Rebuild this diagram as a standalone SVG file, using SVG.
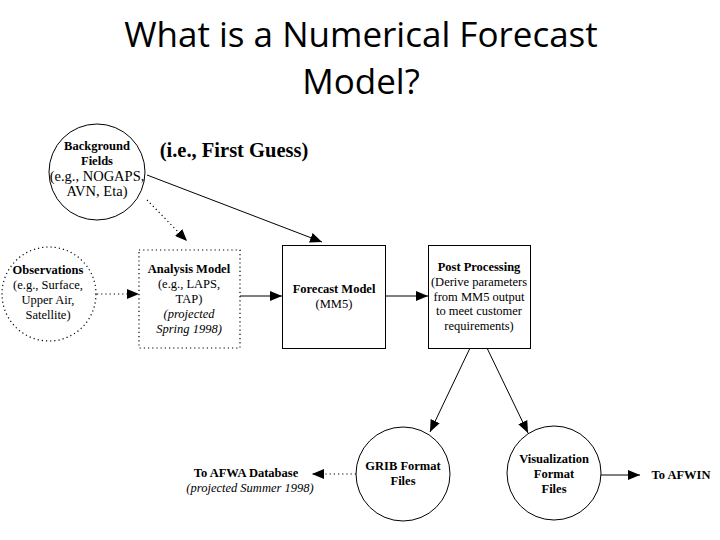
<svg xmlns="http://www.w3.org/2000/svg" width="720" height="540" viewBox="0 0 720 540">
<style>
.t{font-family:"Liberation Serif","Times New Roman",serif;font-size:12.5px;fill:#000;text-anchor:middle}
.b{font-weight:bold}
.i{font-style:italic}
.ln{stroke:#000;stroke-width:1;fill:none}
.dot{stroke:#000;stroke-width:1.2;fill:none;stroke-dasharray:1.2 3}
.title{font-family:"Open Sans","Noto Sans",sans-serif;font-size:35px;fill:#000;text-anchor:middle}
</style>
<defs>
<marker id="ah" viewBox="0 0 12 10" refX="12" refY="5" markerWidth="12" markerHeight="10" markerUnits="userSpaceOnUse" orient="auto">
<path d="M0,0 L12,5 L0,10 z" fill="#000"/>
</marker>
</defs>
<rect width="720" height="540" fill="#fff"/>
<text class="title" x="361" y="47">What is a Numerical Forecast</text>
<text class="title" x="361" y="94">Model?</text>
<text class="t b" x="234" y="157" style="font-size:20.5px">(i.e., First Guess)</text>

<g id="connectors">
<line class="ln" x1="147" y1="175" x2="322" y2="242" marker-end="url(#ah)"/>
<line class="dot" x1="147" y1="200" x2="187" y2="241" marker-end="url(#ah)"/>
<line class="dot" x1="97" y1="294" x2="139" y2="294" marker-end="url(#ah)"/>
<line class="ln" x1="240" y1="296" x2="282" y2="296" marker-end="url(#ah)"/>
<line class="ln" x1="385" y1="296" x2="428" y2="296" marker-end="url(#ah)"/>
<line class="ln" x1="470" y1="348" x2="430" y2="432" marker-end="url(#ah)"/>
<line class="ln" x1="487" y1="348" x2="528" y2="433" marker-end="url(#ah)"/>
<line class="ln" x1="601" y1="475" x2="640" y2="475" marker-end="url(#ah)"/>
<line class="dot" x1="356" y1="474" x2="312" y2="474" marker-end="url(#ah)"/>
</g>

<g id="background">
<circle class="ln" cx="97" cy="172" r="48"/>
<text class="t b" x="97" y="150">Background</text>
<text class="t b" x="97" y="165">Fields</text>
<text class="t" x="97" y="181" style="font-size:14.5px">(e.g., NOGAPS,</text>
<text class="t" x="97" y="196" style="font-size:14.5px">AVN, Eta)</text>
</g>

<g id="observations">
<circle class="dot" cx="49" cy="294" r="47"/>
<text class="t b" x="48" y="274">Observations</text>
<text class="t" x="48" y="289">(e.g., Surface,</text>
<text class="t" x="48" y="304">Upper Air,</text>
<text class="t" x="48" y="319">Satellite)</text>
</g>

<g id="analysis">
<rect class="dot" x="139" y="250" width="101" height="98"/>
<text class="t b" x="189" y="273">Analysis Model</text>
<text class="t" x="189" y="288">(e.g., LAPS,</text>
<text class="t" x="189" y="303">TAP)</text>
<text class="t i" x="189" y="318">(projected</text>
<text class="t i" x="189" y="333">Spring 1998)</text>
</g>

<g id="forecast">
<rect class="ln" x="282.5" y="245.5" width="103" height="103"/>
<text class="t b" x="334" y="293">Forecast Model</text>
<text class="t" x="334" y="308">(MM5)</text>
</g>

<g id="post">
<rect class="ln" x="428.5" y="245.5" width="102" height="103"/>
<text class="t b" x="479" y="271">Post Processing</text>
<text class="t" x="479" y="286">(Derive parameters</text>
<text class="t" x="479" y="301">from MM5 output</text>
<text class="t" x="479" y="315">to meet customer</text>
<text class="t" x="479" y="330">requirements)</text>
</g>

<g id="grib">
<circle class="ln" cx="403" cy="474" r="47"/>
<text class="t b" x="403" y="470">GRIB Format</text>
<text class="t b" x="403" y="485">Files</text>
</g>

<g id="visualization">
<circle class="ln" cx="554" cy="473" r="47"/>
<text class="t b" x="554" y="463">Visualization</text>
<text class="t b" x="554" y="478">Format</text>
<text class="t b" x="554" y="493">Files</text>
</g>

<g id="afwa">
<text class="t b" x="246" y="477">To AFWA Database</text>
<text class="t i" x="250" y="492">(projected Summer 1998)</text>
</g>

<g id="afwin">
<text class="t b" x="681" y="479">To AFWIN</text>
</g>
</svg>
